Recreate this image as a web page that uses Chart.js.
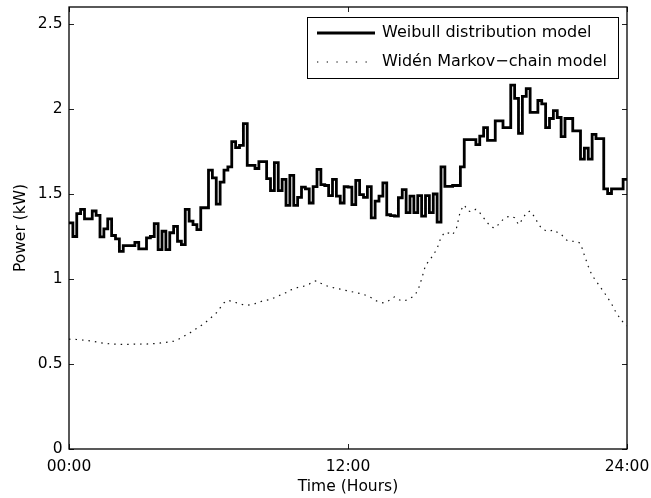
<!DOCTYPE html>
<html>
<head>
<meta charset="utf-8">
<script src="https://cdn.jsdelivr.net/npm/chart.js@4.4.1/dist/chart.umd.min.js"></script>
<style>
  html, body { margin: 0; padding: 0; background: #fff; }
  #wrap { width: 651px; height: 498px; }
</style>
</head>
<body>
<div id="wrap"><canvas id="c" width="651" height="498"></canvas></div>
<script>
// Household load over one day, 10-minute resolution (kW)
const stepMinutes = 10;

// Weibull distribution model: one value per 10-minute interval (144 intervals)
const weibullKW = [
  1.33, 1.25, 1.385, 1.41, 1.354, 1.354, 1.40, 1.374, 1.248, 1.295,
  1.354, 1.256, 1.236, 1.163, 1.196, 1.196, 1.196, 1.216, 1.177, 1.177,
  1.242, 1.25, 1.326, 1.173, 1.281, 1.173, 1.272, 1.31, 1.222, 1.202,
  1.41, 1.34, 1.32, 1.291, 1.419, 1.419, 1.641, 1.595, 1.44, 1.57,
  1.64, 1.66, 1.808, 1.773, 1.786, 1.914, 1.668, 1.668, 1.65, 1.69,
  1.69, 1.59, 1.52, 1.684, 1.52, 1.586, 1.433, 1.61, 1.433, 1.48,
  1.54, 1.53, 1.447, 1.543, 1.645, 1.555, 1.55, 1.49, 1.586, 1.487,
  1.447, 1.543, 1.54, 1.437, 1.58, 1.496, 1.48, 1.543, 1.36, 1.458,
  1.487, 1.566, 1.378, 1.373, 1.37, 1.478, 1.526, 1.39, 1.487, 1.39,
  1.49, 1.37, 1.49, 1.39, 1.50, 1.334, 1.66, 1.545, 1.545, 1.55,
  1.55, 1.66, 1.82, 1.82, 1.82, 1.79, 1.84, 1.89, 1.816, 1.816,
  1.93, 1.93, 1.89, 1.89, 2.141, 2.062, 1.857, 2.074, 2.12, 1.98,
  1.98, 2.05, 2.03, 1.891, 1.944, 1.99, 1.95, 1.838, 1.944, 1.944,
  1.871, 1.871, 1.705, 1.77, 1.705, 1.851, 1.826, 1.826, 1.53, 1.503,
  1.53, 1.53, 1.53, 1.586
];

// Widén Markov-chain model: sampled every 10 minutes from 00:00 to 24:00 (145 samples)
const markovKW = [
  0.646, 0.645, 0.644, 0.642, 0.640, 0.637, 0.634, 0.630, 0.626, 0.622,
  0.620, 0.618, 0.617, 0.616, 0.615, 0.616, 0.615, 0.617, 0.616, 0.618,
  0.617, 0.619, 0.620, 0.622, 0.625, 0.627, 0.630, 0.634, 0.642, 0.655,
  0.668, 0.680, 0.695, 0.710, 0.725, 0.740, 0.760, 0.780, 0.800, 0.830,
  0.860, 0.875, 0.868, 0.862, 0.855, 0.848, 0.845, 0.850, 0.855, 0.862,
  0.872, 0.875, 0.880, 0.890, 0.900, 0.910, 0.920, 0.935, 0.940, 0.950,
  0.955, 0.960, 0.970, 0.985, 0.990, 0.975, 0.965, 0.955, 0.950, 0.945,
  0.940, 0.935, 0.930, 0.925, 0.920, 0.915, 0.910, 0.900, 0.890, 0.875,
  0.865, 0.860, 0.865, 0.880, 0.895, 0.880, 0.870, 0.875, 0.885, 0.900,
  0.930, 1.000, 1.080, 1.110, 1.140, 1.180, 1.245, 1.275, 1.270, 1.260,
  1.300, 1.400, 1.435, 1.400, 1.395, 1.410, 1.390, 1.360, 1.330, 1.305,
  1.300, 1.325, 1.350, 1.365, 1.370, 1.360, 1.320, 1.350, 1.390, 1.400,
  1.370, 1.330, 1.295, 1.285, 1.280, 1.290, 1.275, 1.265, 1.235, 1.222,
  1.222, 1.220, 1.210, 1.140, 1.075, 1.020, 0.990, 0.955, 0.925, 0.890,
  0.855, 0.810, 0.775, 0.745, 0.724
];

const seriesNames = ['Weibull distribution model', 'Wid\u00e9n Markov\u2212chain model'];
const xTickHours = [0, 12, 24];
const xTickLabels = ['00:00', '12:00', '24:00'];
const yTickValues = [0, 0.5, 1, 1.5, 2, 2.5];
const yTickLabels = ['0', '0.5', '1', '1.5', '2', '2.5'];

const toHours = i => i * stepMinutes / 60;

// Step series: each value holds until the next interval; close at 24:00
const weibullPoints = weibullKW.map((v, i) => ({ x: toHours(i), y: v }));
weibullPoints.push({ x: toHours(weibullKW.length), y: weibullKW[weibullKW.length - 1] });
const markovPoints = markovKW.map((v, i) => ({ x: toHours(i), y: v }));

Chart.defaults.font.family = "'DejaVu Sans', sans-serif";
Chart.defaults.color = '#000';

// Box frame with inward tick marks on all four sides
const frameTicks = {
  id: 'frameTicks',
  afterDatasetsDraw(chart) {
    const { ctx, chartArea: a, scales: { x, y } } = chart;
    const seg = (x1, y1, x2, y2) => { ctx.beginPath(); ctx.moveTo(x1, y1); ctx.lineTo(x2, y2); ctx.stroke(); };
    ctx.save();
    ctx.strokeStyle = '#222';
    ctx.lineWidth = 1;
    const len = 5;
    xTickHours.forEach(h => {
      const px = Math.round(x.getPixelForValue(h)) + 0.5;
      seg(px, a.bottom, px, a.bottom - len);
      seg(px, a.top, px, a.top + len);
    });
    yTickValues.forEach(v => {
      const py = Math.round(y.getPixelForValue(v)) + 0.5;
      seg(a.left, py, a.left + len, py);
      seg(a.right, py, a.right - len, py);
    });
    ctx.strokeStyle = '#000';
    ctx.lineWidth = 1.3;
    ctx.strokeRect(a.left, a.top, a.right - a.left, a.bottom - a.top);
    ctx.restore();
  }
};

// Boxed legend in the upper right of the plot
const boxedLegend = {
  id: 'boxedLegend',
  afterDraw(chart) {
    const { ctx } = chart;
    const bx = 307, by = 17, bw = 311, bh = 61;
    ctx.save();
    ctx.fillStyle = '#fff';
    ctx.fillRect(bx, by, bw, bh);
    ctx.strokeStyle = '#000';
    ctx.lineWidth = 1;
    ctx.strokeRect(bx + 0.5, by + 0.5, bw, bh);
    const rows = [by + 16, by + 45];
    const styles = [
      { width: 2.8, dash: [] },
      { width: 1.2, dash: [1.3, 8.4] }
    ];
    rows.forEach((ry, k) => {
      ctx.beginPath();
      ctx.setLineDash(styles[k].dash);
      ctx.lineWidth = styles[k].width;
      ctx.moveTo(317, ry);
      ctx.lineTo(375, ry);
      ctx.stroke();
    });
    ctx.setLineDash([]);
    ctx.fillStyle = '#000';
    ctx.font = "16px 'DejaVu Sans', sans-serif";
    ctx.textBaseline = 'middle';
    ctx.textAlign = 'left';
    rows.forEach((ry, k) => ctx.fillText(seriesNames[k], 382, ry));
    ctx.restore();
  }
};

new Chart(document.getElementById('c'), {
  type: 'line',
  data: {
    datasets: [
      {
        label: seriesNames[0],
        data: weibullPoints,
        stepped: true,
        borderColor: '#000',
        borderWidth: 2.8,
        pointRadius: 0,
        fill: false
      },
      {
        label: seriesNames[1],
        data: markovPoints,
        borderColor: '#111',
        borderWidth: 1.2,
        borderDash: [1.5, 5],
        pointRadius: 0,
        tension: 0,
        fill: false
      }
    ]
  },
  options: {
    responsive: false,
    animation: false,
    devicePixelRatio: 1,
    layout: { padding: { top: 7, right: 24, left: 0, bottom: 0 } },
    plugins: {
      legend: { display: false },
      tooltip: { enabled: false }
    },
    scales: {
      x: {
        type: 'linear',
        min: 0,
        max: 24,
        grid: { display: false, drawTicks: false },
        border: { display: false },
        afterBuildTicks: s => { s.ticks = xTickHours.map(v => ({ value: v })); },
        afterFit: s => { s.height = 49; s.paddingLeft = 0; s.paddingRight = 0; },
        ticks: {
          padding: 9,
          maxRotation: 0,
          font: { size: 15.5 },
          callback: v => xTickLabels[xTickHours.indexOf(v)]
        },
        title: {
          display: true,
          text: 'Time (Hours)',
          font: { size: 15.5 },
          padding: { top: 0, bottom: 2 }
        }
      },
      y: {
        min: 0,
        max: 2.6,
        grid: { display: false, drawTicks: false },
        border: { display: false },
        afterBuildTicks: s => { s.ticks = yTickValues.map(v => ({ value: v })); },
        afterFit: s => { s.width = 69; s.paddingTop = 0; s.paddingBottom = 0; },
        ticks: {
          padding: 6.5,
          font: { size: 15.5 },
          callback: v => yTickLabels[yTickValues.indexOf(v)]
        },
        title: {
          display: true,
          text: 'Power (kW)',
          font: { size: 15.5 },
          padding: { top: 12, bottom: 0 }
        }
      }
    }
  },
  plugins: [frameTicks, boxedLegend]
});
</script>
</body>
</html>
